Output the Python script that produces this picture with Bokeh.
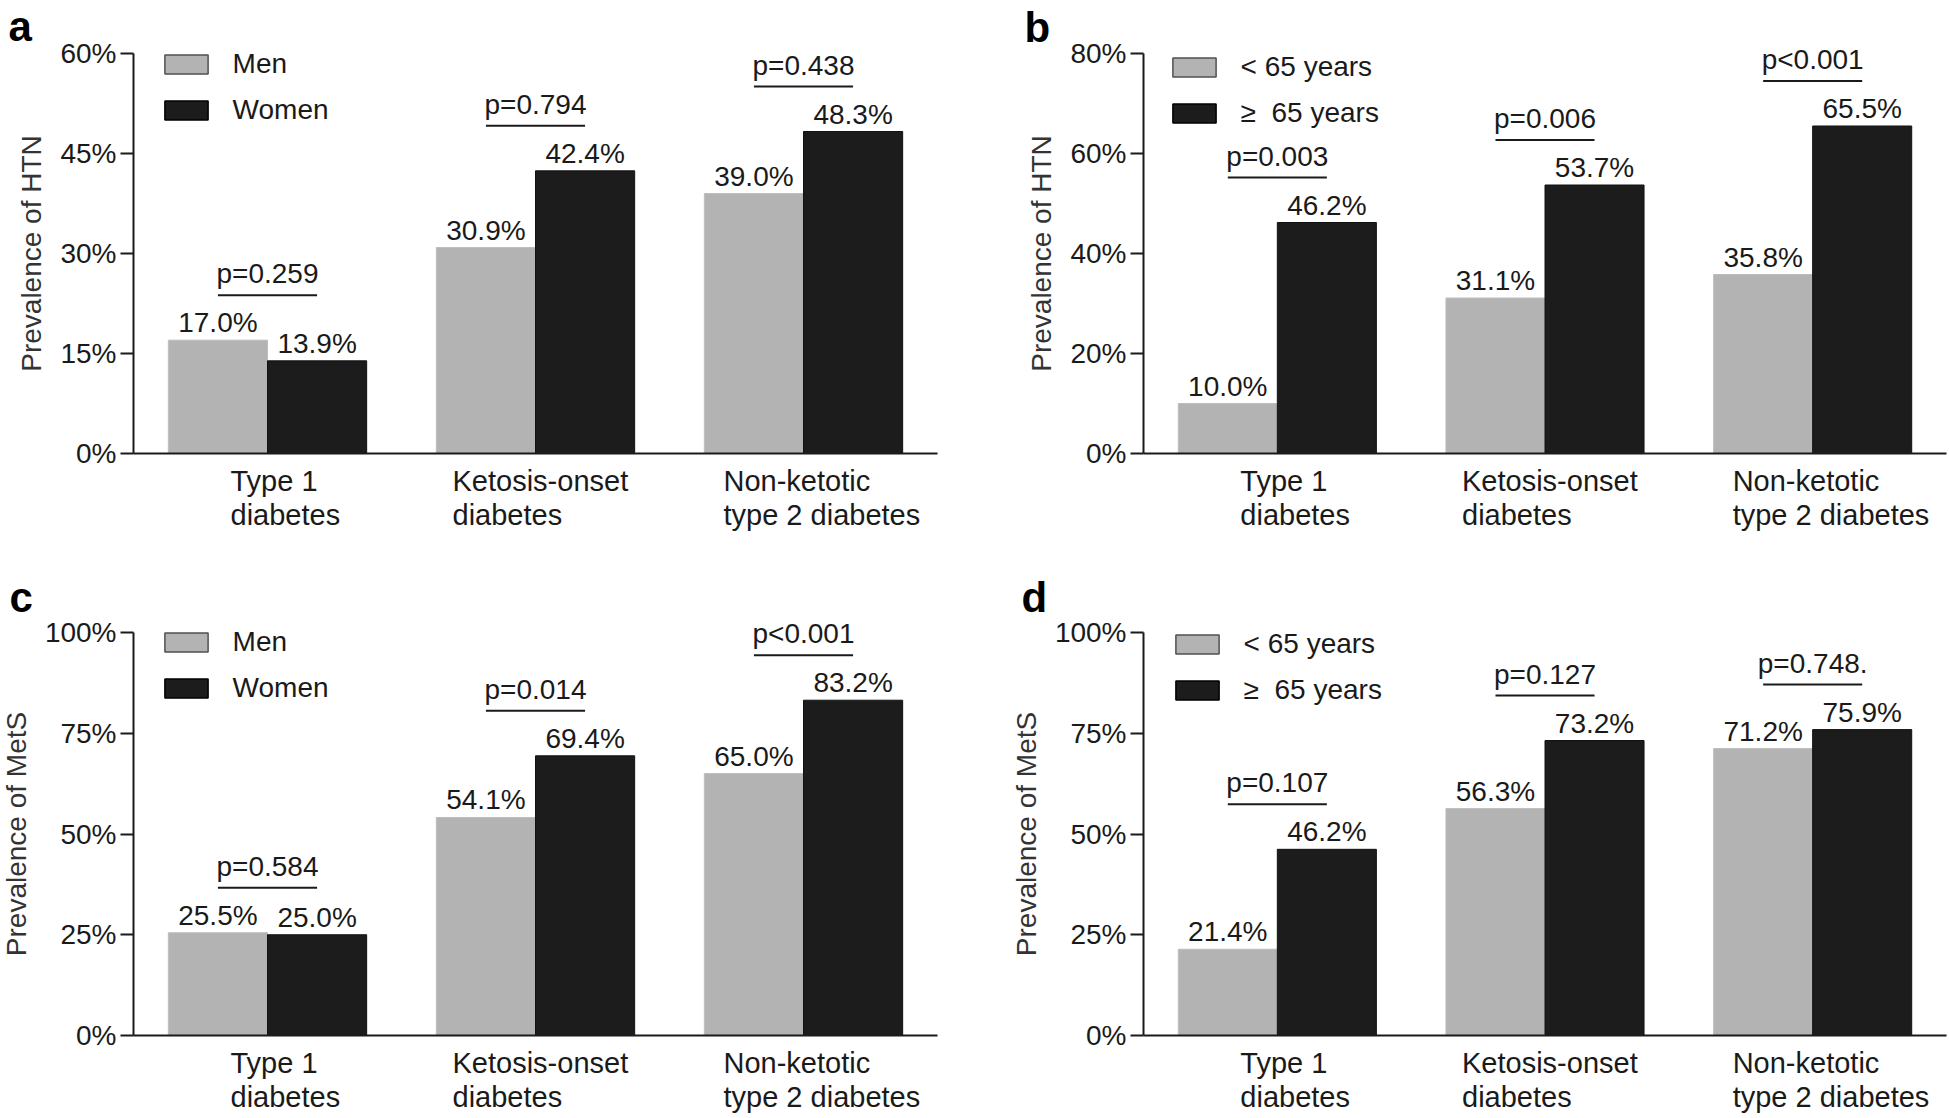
from bokeh.plotting import figure
from bokeh.models import (Range1d, Legend, LegendItem, PrintfTickFormatter,
                          FixedTicker, ColumnDataSource, LinearAxis)
from bokeh.layouts import row, column
from bokeh.embed import file_html
from bokeh.resources import INLINE
from bokeh.core.properties import value
from bokeh.transform import dodge

# ---------------- data ----------------
categories = ["Type 1 diabetes", "Ketosis-onset diabetes", "Non-ketotic type 2 diabetes"]
category_labels = ["Type 1\ndiabetes", "Ketosis-onset\ndiabetes", "Non-ketotic\ntype 2 diabetes"]

sex_groups = ["Men", "Women"]
age_groups = ["< 65 years", "\u2265  65 years"]

htn_men = [17.0, 30.9, 39.0]
htn_women = [13.9, 42.4, 48.3]
htn_sex_p = ["p=0.259", "p=0.794", "p=0.438"]

htn_lt65 = [10.0, 31.1, 35.8]
htn_ge65 = [46.2, 53.7, 65.5]
htn_age_p = ["p=0.003", "p=0.006", "p<0.001"]

mets_men = [25.5, 54.1, 65.0]
mets_women = [25.0, 69.4, 83.2]
mets_sex_p = ["p=0.584", "p=0.014", "p<0.001"]

mets_lt65 = [21.4, 56.3, 71.2]
mets_ge65 = [46.2, 73.2, 75.9]
mets_age_p = ["p=0.107", "p=0.127", "p=0.748."]

htn_sex_ticks = [0, 15, 30, 45, 60]
htn_age_ticks = [0, 20, 40, 60, 80]
mets_ticks = [0, 25, 50, 75, 100]

# ---------------- style ----------------
FONT = "Liberation Sans"
FS = "28px"
FS_CAT = "29px"
GREY = "#b3b3b3"
BLACK = "#1c1c1c"
TXT = "#1a1a1a"
BAR_W = 0.37
DODGE = 0.185
CAT_DX = [-37, -83, -80]


def make_panel(letter, ylabel, names, v1, v2, pvals, ticks,
               fig_left, fig_top, fig_w, fig_h, axis_x, zero_y, plot_w, plot_h,
               letter_dx, letter_dy, leg_x, leg_center):
    n = len(categories)
    ymax = ticks[-1]
    unit = plot_w / n
    ppu = plot_h / ymax
    xr = Range1d((fig_left - axis_x) / unit, (fig_left + fig_w - axis_x) / unit)
    yr = Range1d(-(fig_top + fig_h - zero_y) / ppu, (zero_y - fig_top) / ppu)
    p = figure(x_range=xr, y_range=yr, width=fig_w, height=fig_h,
               x_axis_type=None, y_axis_type=None, min_border=0,
               min_border_left=0, min_border_right=0, min_border_top=0,
               min_border_bottom=0, output_backend="svg", toolbar_location=None,
               outline_line_color=None, background_fill_color="white",
               border_fill_color="white")
    p.grid.visible = False

    def fmt(v):
        return ["%.1f%%" % x for x in v]

    cat_x = [i + 0.5 for i in range(n)]
    bracket = [max(a, b) + 45.0 / ppu for a, b in zip(v1, v2)]
    src = ColumnDataSource(dict(x=cat_x, v1=v1, v2=v2, l1=fmt(v1), l2=fmt(v2),
                                p=pvals, br=bracket, lab=category_labels,
                                zero=[0] * n, dx=CAT_DX))

    p.vbar(x=dodge("x", -DODGE), top="v1", width=BAR_W, source=src,
           fill_color=GREY, line_color="#bdbdbd")
    p.vbar(x=dodge("x", DODGE), top="v2", width=BAR_W, source=src,
           fill_color=BLACK, line_color="#111111")

    common = dict(source=src, text_font=value(FONT), text_color=TXT)
    p.text(x=dodge("x", -DODGE), y="v1", text="l1", text_align="center",
           text_baseline="bottom", y_offset=-2, text_font_size=FS, **common)
    p.text(x=dodge("x", DODGE), y="v2", text="l2", text_align="center",
           text_baseline="bottom", y_offset=-2, text_font_size=FS, **common)

    p.segment(x0=dodge("x", -DODGE), x1=dodge("x", DODGE), y0="br", y1="br",
              source=src, line_color=TXT, line_width=2)
    p.text(x="x", y="br", text="p", text_align="center",
           text_baseline="bottom", y_offset=-6, text_font_size=FS, **common)

    # category labels (left-aligned two-line blocks under each group)
    p.text(x="x", y="zero", text="lab", x_offset="dx", y_offset=11,
           text_align="left", text_baseline="top", text_line_height=1.07,
           text_font_size=FS_CAT, **common)

    # panel letter
    p.text(x=[xr.start], y=[yr.end], text=[letter], x_offset=letter_dx,
           y_offset=letter_dy, text_align="left", text_baseline="bottom",
           text_font=value(FONT), text_font_size="42px", text_font_style="bold",
           text_color="#000000")

    # legend swatches (hidden one-row renderers, used only by the legend)
    r1 = p.vbar(x=[cat_x[0]], top=[0], width=BAR_W, fill_color=GREY,
                line_color="#505050", line_width=1.5, visible=False)
    r2 = p.vbar(x=[cat_x[0]], top=[0], width=BAR_W, fill_color=BLACK,
                line_color="#000000", line_width=1.5, visible=False)
    leg = Legend(items=[LegendItem(label=names[0], renderers=[r1]),
                        LegendItem(label=names[1], renderers=[r2])],
                 location=(leg_x, fig_h - leg_center - 62.5), glyph_width=54,
                 glyph_height=24, label_standoff=20, spacing=14, padding=0,
                 margin=0, border_line_color=None, background_fill_alpha=0,
                 label_text_font=FONT, label_text_font_size=FS,
                 label_text_color=TXT, label_height=18)
    p.add_layout(leg)

    # y axis (fixed at the left end of the categories)
    ya = LinearAxis(fixed_location=0, bounds=(0, ymax))
    ya.ticker = FixedTicker(ticks=ticks)
    ya.formatter = PrintfTickFormatter(format="%d%%")
    ya.minor_tick_line_color = None
    ya.major_tick_out = 13
    ya.major_tick_in = 0
    ya.major_tick_line_width = 2
    ya.major_tick_line_color = TXT
    ya.axis_line_width = 2
    ya.axis_line_color = TXT
    ya.major_label_text_font = FONT
    ya.major_label_text_font_size = FS
    ya.major_label_text_color = TXT
    ya.major_label_standoff = 4
    ya.axis_label = ylabel
    ya.axis_label_text_font = FONT
    ya.axis_label_text_font_style = "normal"
    ya.axis_label_text_font_size = FS
    ya.axis_label_text_color = "#333333"
    ya.axis_label_standoff = 10
    p.add_layout(ya, "left")

    # x axis baseline
    xa = LinearAxis(fixed_location=0, bounds=(0, n))
    xa.ticker = FixedTicker(ticks=[])
    xa.major_tick_line_color = None
    xa.minor_tick_line_color = None
    xa.major_label_text_font_size = "0px"
    xa.axis_line_width = 2
    xa.axis_line_color = TXT
    p.add_layout(xa, "below")
    return p


pa = make_panel("a", "Prevalence of HTN", sex_groups, htn_men, htn_women, htn_sex_p,
                htn_sex_ticks, 0, 0, 1008, 560, 133, 453, 804, 400, 8, 49, 158.6, 63.5)
pb = make_panel("b", "Prevalence of HTN", age_groups, htn_lt65, htn_ge65, htn_age_p,
                htn_age_ticks, 1008, 0, 941, 560, 1143, 453, 803, 400, 16, 50, 158.6, 66)
pc = make_panel("c", "Prevalence of MetS", sex_groups, mets_men, mets_women, mets_sex_p,
                mets_ticks, 0, 560, 1008, 558, 133, 1035, 804, 403, 9, 60, 158.6, 81.5)
pd = make_panel("d", "Prevalence of MetS", age_groups, mets_lt65, mets_ge65, mets_age_p,
                mets_ticks, 1008, 560, 941, 558, 1143, 1035, 803, 403, 13, 60, 161.6, 83)

layout = column(row(pa, pb), row(pc, pd))
open("out.html", "w").write(file_html(layout, INLINE))
